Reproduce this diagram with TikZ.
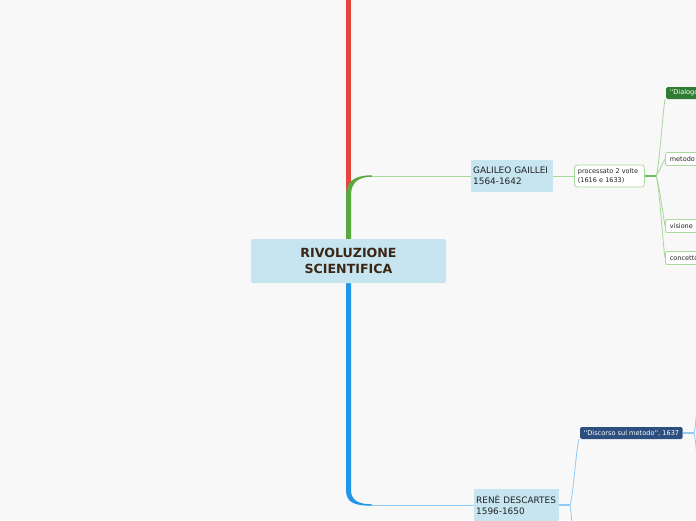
\documentclass[tikz,border=0pt]{standalone}
\usepackage{fontspec}
\defaultfontfeatures[\rmfamily,\sffamily]{}
\setmainfont{DejaVu Sans}
\setsansfont{DejaVu Sans}
\definecolor{bg}{HTML}{F8F8F8}
\definecolor{rootfill}{HTML}{C6E5F0}
\definecolor{redb}{HTML}{E8453C}
\definecolor{greenb}{HTML}{58A93F}
\definecolor{greenm}{HTML}{6DBB5A}
\definecolor{greenl}{HTML}{A9D89C}
\definecolor{blueb}{HTML}{2196E8}
\definecolor{bluel}{HTML}{90CAF5}
\definecolor{txt}{HTML}{3B2616}
\definecolor{dtxt}{HTML}{222222}
\definecolor{dgreen}{HTML}{2E7D32}
\definecolor{dblue}{HTML}{2C4F7D}
\begin{document}
\begin{tikzpicture}[x=1pt,y=-1pt,
  rootbox/.style={fill=rootfill, rounded corners=1.5pt, minimum width=195pt, minimum height=44pt, align=center, text=txt, font=\bfseries\fontsize{12.6}{15.5}\selectfont, inner sep=0pt},
  topicbox/.style={fill=rootfill, minimum height=32pt, align=left, text=dtxt, font=\fontsize{8.9}{11.5}\selectfont, inner xsep=2pt, inner ysep=0pt, anchor=west},
  subbox/.style={fill=white, draw=greenl, line width=0.8pt, rounded corners=3pt, align=left, text=dtxt, font=\fontsize{6.5}{9}\selectfont, inner xsep=3.5pt, anchor=west},
  leafbox/.style={fill=white, draw=greenl, line width=0.8pt, rounded corners=2pt, minimum height=13pt, text=dtxt, font=\fontsize{6.5}{8}\selectfont, inner xsep=4.5pt, inner ysep=0pt, anchor=west, text depth=0pt, align=left},
  darkbox/.style={rounded corners=1.5pt, minimum height=12pt, text=white, font=\fontsize{6.6}{8}\selectfont, inner xsep=3.5pt, inner ysep=0pt, anchor=west},
  fanline/.style={line width=0.8pt}
]
\fill[bg] (0,0) rectangle (696,520);
\useasboundingbox (0,0) rectangle (696,520);
\clip (0,0) rectangle (696,520);

% red trunk
\fill[redb] (346,0) rectangle (351,240);
% green trunk
\fill[greenb] (346,240) -- (346,195) .. controls (346,181) and (355,175.3) .. (372,175.3) -- (372,176.7) .. controls (358,176.7) and (351,183) .. (351,195) -- (351,240) -- cycle;
% blue trunk
\fill[blueb] (346,282) -- (346,490) .. controls (346,503) and (355,505.7) .. (372,505.7) -- (372,504.3) .. controls (358,504.3) and (351,500) .. (351,490) -- (351,282) -- cycle;

% nodes
\node[rootbox] (root) at (348.5,261) {RIVOLUZIONE\\SCIENTIFICA};
\node[topicbox, text width=78pt] (gal) at (471,176) {GALILEO GAILLEI\\1564-1642};
\node[subbox, text width=63pt, minimum height=22pt] (proc) at (574,176) {processato 2 volte\\(1616 e 1633)};
\node[darkbox, fill=dgreen, text width=52pt, align=left] (dial) at (666,93) {''Dialogo};
\node[leafbox, text width=52pt] (met) at (665,159) {metodo};
\node[leafbox, text width=52pt] (vis) at (665,226) {visione};
\node[leafbox, text width=52pt] (con) at (665,258) {concetto};
\node[topicbox, text width=81pt] (desc) at (474,505) {REN\`E DESCARTES\\1596-1650};
\node[darkbox, fill=dblue, minimum width=102pt] (disc) at (580,433) {''Discorso sul metodo'', 1637};

% coordinates
\coordinate (g0) at (372,176);
\coordinate (b0) at (372,505);
\coordinate (j1) at (656,176);
\coordinate (j2) at (570,505);
\coordinate (j2d) at (572,530);
\coordinate (j3) at (694,433);
\coordinate (j3u) at (699,385);
\coordinate (j3d) at (699,478);

% connectors green
\draw[greenl, line width=1pt] (g0) -- (gal.west);
\draw[greenl, line width=1pt] (gal.east) -- (proc.west);
\draw[greenm, line width=1.4pt] (proc.east) -- (j1);
\draw[greenl, fanline] (j1) .. controls (659,170) and (663,110) .. ([xshift=-1pt]dial.south west);
\draw[greenl, fanline] (j1) .. controls (659,172) and (662,164) .. (met.west);
\draw[greenl, fanline] (j1) .. controls (659,182) and (663,215) .. (vis.west);
\draw[greenl, fanline] (j1) .. controls (659,182) and (663,245) .. (con.west);

% connectors blue
\draw[bluel, line width=1pt] (b0) -- (desc.west);
\draw[bluel, line width=1.4pt] (desc.east) -- (j2);
\draw[bluel, fanline] (j2) .. controls (573,498) and (576,450) .. ([xshift=-1pt]disc.south west);
\draw[bluel, fanline] (j2) .. controls (571,512) and (572,520) .. (j2d);
\draw[bluel, line width=1.4pt] (disc.east) -- (j3);
\draw[bluel, fanline] (j3) .. controls (696,428) and (697,400) .. (j3u);
\draw[bluel, fanline] (j3) .. controls (696,438) and (697,465) .. (j3d);
\end{tikzpicture}
\end{document}
